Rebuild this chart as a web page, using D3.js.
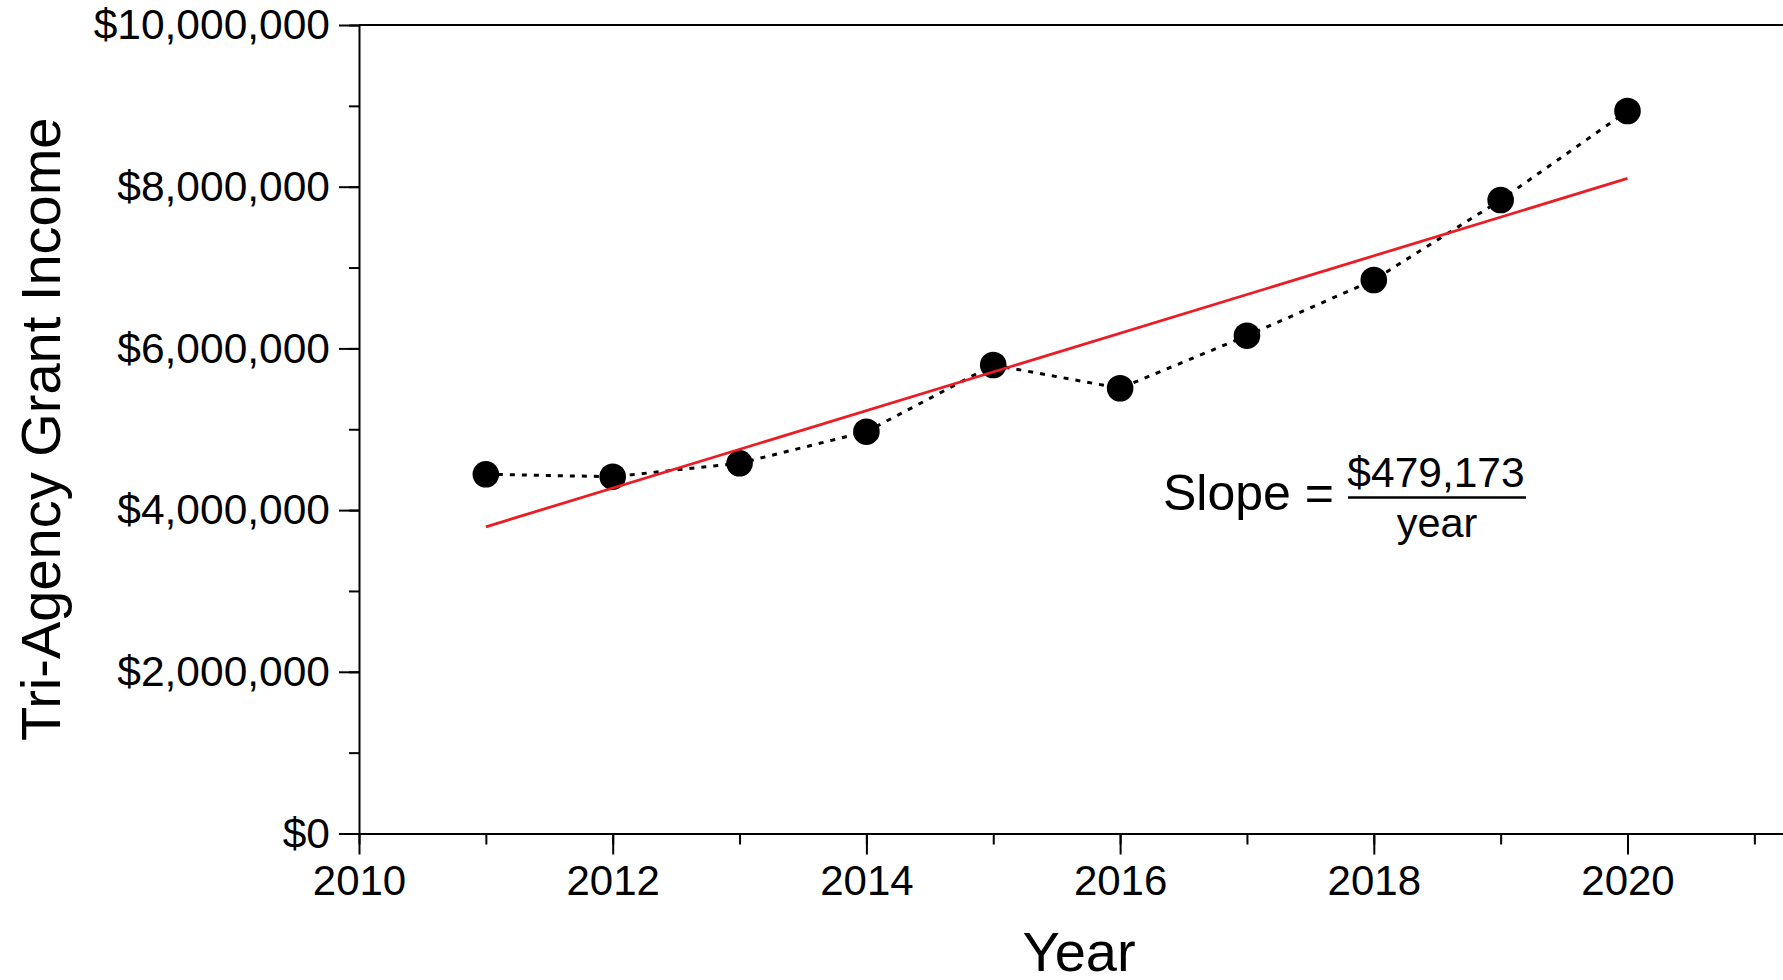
<!DOCTYPE html>
<html>
<head>
<meta charset="utf-8">
<script src="https://cdn.jsdelivr.net/npm/d3@7"></script>
<style>
  body { margin: 0; background: #fff; }
  svg { display: block; font-family: "Liberation Sans", Arial, Helvetica, sans-serif; }
</style>
</head>
<body>
<div id="chart"></div>
<script>
// data
const years = [2011, 2012, 2013, 2014, 2015, 2016, 2017, 2018, 2019, 2020];
const income = [4443000, 4413000, 4579000, 4970000, 5795000, 5507000, 6157000, 6846000, 7835000, 8936000];
const yMajorTicks = [0, 2000000, 4000000, 6000000, 8000000, 10000000];
const xMajorTicks = [2010, 2012, 2014, 2016, 2018, 2020];
const slopeLabel = '$479,173';

const width = 1783, height = 980;
const plotLeft = 359, plotTop = 25, plotBottom = 833.5;
const pxPerYear = 126.85;

const svg = d3.select('#chart').append('svg')
    .attr('width', width)
    .attr('height', height);

const x = d3.scaleLinear()
    .domain([2010, 2021.5])
    .range([plotLeft, plotLeft + 11.5 * pxPerYear]);

const y = d3.scaleLinear()
    .domain([0, 10000000])
    .range([plotBottom, plotTop]);

const fmt = d => '$' + d3.format(',')(d);

// top frame line
svg.append('line')
    .attr('x1', plotLeft).attr('x2', width)
    .attr('y1', y(10000000)).attr('y2', y(10000000))
    .attr('stroke', '#000').attr('stroke-width', 2);

// y axis: minor + major
svg.append('g')
    .attr('transform', `translate(${plotLeft},0)`)
    .call(d3.axisLeft(y).tickValues(d3.range(0, 10000001, 1000000)).tickSize(10).tickFormat(''))
    .call(g => g.selectAll('line').attr('stroke-width', 2))
    .call(g => g.select('.domain').remove());

svg.append('g')
    .attr('transform', `translate(${plotLeft},0)`)
    .call(d3.axisLeft(y).tickValues(yMajorTicks).tickSizeInner(20).tickSizeOuter(0).tickPadding(9).tickFormat(fmt))
    .call(g => g.select('.domain').attr('stroke-width', 2))
    .call(g => g.selectAll('line').attr('stroke-width', 2))
    .call(g => g.selectAll('text').attr('font-size', 42.5).attr('font-family', null).attr('fill', '#000'));

// x axis: minor + major
svg.append('g')
    .attr('transform', `translate(0,${plotBottom})`)
    .call(d3.axisBottom(x).tickValues(d3.range(2010, 2022)).tickSize(11).tickFormat(''))
    .call(g => g.selectAll('line').attr('stroke-width', 2))
    .call(g => g.select('.domain').remove());

svg.append('g')
    .attr('transform', `translate(0,${plotBottom})`)
    .call(d3.axisBottom(x).tickValues(xMajorTicks).tickSizeInner(21).tickSizeOuter(0).tickPadding(11).tickFormat(d3.format('d')))
    .call(g => g.select('.domain').attr('stroke-width', 2))
    .call(g => g.selectAll('line').attr('stroke-width', 2))
    .call(g => g.selectAll('text').attr('font-size', 42).attr('font-family', null).attr('fill', '#000'));

// axis titles
svg.append('text')
    .attr('x', 1079).attr('y', 971)
    .attr('text-anchor', 'middle')
    .attr('font-size', 56)
    .text('Year');

svg.append('text')
    .attr('transform', `translate(60,${(plotTop + plotBottom) / 2}) rotate(-90)`)
    .attr('text-anchor', 'middle')
    .attr('font-size', 56)
    .text('Tri-Agency Grant Income');

const points = years.map((yr, i) => ({ year: yr, value: income[i] }));

// dotted connecting line
svg.append('path')
    .datum(points)
    .attr('fill', 'none')
    .attr('stroke', '#000')
    .attr('stroke-width', 3)
    .attr('stroke-dasharray', '5 7')
    .attr('d', d3.line().x(d => x(d.year)).y(d => y(d.value)));

// markers
svg.append('g')
    .selectAll('circle')
    .data(points)
    .join('circle')
    .attr('cx', d => x(d.year))
    .attr('cy', d => y(d.value))
    .attr('r', 13.3)
    .attr('fill', '#000');

// least squares fit
const mx = d3.mean(years), my = d3.mean(income);
const slope = d3.sum(points, d => (d.year - mx) * (d.value - my)) / d3.sum(points, d => (d.year - mx) ** 2);
const fit = yr => my + slope * (yr - mx);
const xExt = d3.extent(years);

svg.append('line')
    .attr('x1', x(xExt[0])).attr('y1', y(fit(xExt[0])))
    .attr('x2', x(xExt[1])).attr('y2', y(fit(xExt[1])))
    .attr('stroke', '#ec1c24')
    .attr('stroke-width', 2.8);

// slope annotation
const note = svg.append('g');
note.append('text')
    .attr('x', 1334).attr('y', 510)
    .attr('text-anchor', 'end')
    .attr('font-size', 50)
    .text('Slope =');
note.append('text')
    .attr('x', 1436).attr('y', 487)
    .attr('text-anchor', 'middle')
    .attr('font-size', 42.5)
    .text(slopeLabel);
note.append('line')
    .attr('x1', 1348).attr('x2', 1526)
    .attr('y1', 497.5).attr('y2', 497.5)
    .attr('stroke', '#000').attr('stroke-width', 2.5);
note.append('text')
    .attr('x', 1437).attr('y', 537)
    .attr('text-anchor', 'middle')
    .attr('font-size', 41.5)
    .text('year');
</script>
</body>
</html>
